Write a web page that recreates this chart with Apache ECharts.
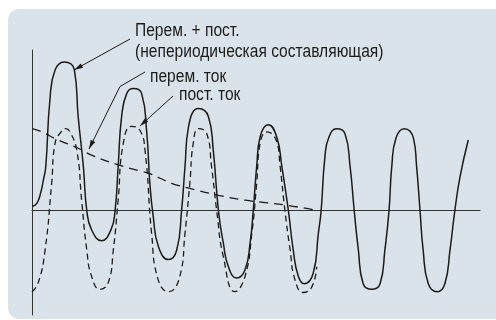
<!DOCTYPE html>
<html><head><meta charset="utf-8">
<script src="https://cdn.jsdelivr.net/npm/echarts@6/dist/echarts.min.js"></script>
<style>html,body{margin:0;padding:0;background:#fff}#c{width:496px;height:320px}</style>
</head><body><div id="c"></div>
<script>
// Time (ms) and value (per-unit) readings for each curve
const totalT = [0, 1.4, 2.5, 3.3, 4.0, 5.2, 6.7, 9.3, 12.3, 13.4, 14.9, 15.9, 17.3, 20.2, 22.9, 24.1, 25.0, 26.0, 27.5, 29.4, 31.8, 33.3, 34.2, 35.2, 36.7, 39.6, 42.0, 43.4, 44.4, 45.4, 48.3, 51.2, 52.6, 54.1, 55.5, 57.0, 59.4, 61.8, 63.3, 64.2, 65.2, 66.2, 68.6, 71.0, 72.5, 74.4, 75.8, 77.3, 79.0, 81.6, 83.1, 83.9, 85.0, 86.2, 88.4, 90.8, 92.3, 93.5, 94.7, 96.1, 98.6, 101.0, 102.4, 103.6, 104.4, 105.6, 108.0, 110.7, 111.6, 112.6, 113.5, 115.0, 117.6, 119.8, 121.3, 122.7, 124.2, 126.6];
const totalV = [0.05, 0.09, 0.22, 0.38, 0.55, 1.38, 1.75, 1.85, 1.75, 1.17, 0.55, 0.0, -0.24, -0.375, -0.24, 0.0, 0.55, 1.17, 1.46, 1.52, 1.46, 0.97, 0.34, -0.08, -0.45, -0.61, -0.49, 0.0, 0.55, 1.04, 1.27, 1.17, 0.75, 0.0, -0.40, -0.70, -0.84, -0.74, -0.40, 0.0, 0.55, 0.92, 1.07, 0.92, 0.55, 0.0, -0.49, -0.82, -0.91, -0.78, -0.28, 0.0, 0.67, 0.92, 1.02, 0.96, 0.55, 0.0, -0.49, -0.91, -0.98, -0.91, -0.49, 0.0, 0.55, 0.90, 1.02, 0.90, 0.55, 0.0, -0.49, -0.91, -1.01, -0.91, -0.49, 0.0, 0.42, 0.88];

const acT = [0, 1.8, 3.8, 5.7, 6.7, 8.6, 9.8, 11.0, 13.0, 14.4, 15.9, 17.3, 19.7, 22.1, 23.6, 25.0, 26.5, 28.9, 31.3, 32.8, 34.7, 36.6, 39.6, 42.9, 44.4, 45.8, 46.8, 48.3, 50.7, 52.1, 53.6, 55.5, 58.9, 61.8, 63.8, 65.2, 66.2, 68.2, 71.0, 72.0, 73.4, 74.9, 76.3, 78.7, 81.2, 82.6];
const acV = [-1.01, -0.90, -0.49, 0.34, 0.84, 0.99, 1.02, 0.98, 0.75, 0.13, -0.49, -0.82, -0.98, -0.90, -0.49, 0.13, 0.84, 1.05, 1.0, 0.75, -0.28, -0.86, -1.01, -0.82, -0.28, 0.34, 0.84, 1.02, 0.96, 0.55, 0.0, -0.57, -1.01, -0.82, -0.28, 0.34, 0.84, 0.98, 0.86, 0.55, 0.0, -0.49, -0.86, -1.02, -0.95, -0.70];

const dcT = [0, 2.8, 7.5, 13.3, 17.3, 25.0, 30.8, 34.2, 40.5, 47.3, 54.1, 61.8, 67.6, 73.4, 79.2, 83.1];
const dcV = [1.02, 0.98, 0.88, 0.78, 0.69, 0.57, 0.50, 0.46, 0.34, 0.26, 0.19, 0.13, 0.10, 0.07, 0.03, 0.0];

const labels = ['Перем. + пост.', '(непериодическая составляющая)', 'перем. ток', 'пост. ток'];

function pairs(t, v) { return t.map((x, i) => [x, v[i]]); }

function arrowHead(p1, p2, len, w) {
  const dx = p2[0] - p1[0], dy = p2[1] - p1[1], L = Math.hypot(dx, dy);
  const ux = dx / L, uy = dy / L;
  const bx = p2[0] - ux * len, by = p2[1] - uy * len;
  return [[p2[0], p2[1]], [bx - uy * w / 2, by + ux * w / 2], [bx + uy * w / 2, by - ux * w / 2]];
}

const INK = '#1b1b1b';
const FONT = '17.5px "Liberation Sans", Arial, sans-serif';
const textEl = (txt, x, y, sx) => ({
  type: 'text', x: x, y: y, scaleX: sx, z: 100,
  style: { text: txt, x: 0, y: 0, font: FONT, fill: INK, align: 'left', verticalAlign: 'top' }
});
const lineEl = (pts) => ({ type: 'polyline', z: 100, shape: { points: pts }, style: { stroke: INK, lineWidth: 1, fill: null } });
const headEl = (a, b) => ({ type: 'polygon', z: 100, shape: { points: arrowHead(a, b, 9, 5) }, style: { fill: INK } });

const a1 = [[130, 39], [74, 70]];
const a2 = [[145, 72], [120, 86.5], [89, 149]];
const a3 = [[173, 96], [140, 126]];

const chart = echarts.init(document.getElementById('c'));
chart.setOption({
  animation: false,
  backgroundColor: '#ffffff',
  grid: { left: 32, top: 50, width: 448, height: 265 },
  xAxis: {
    type: 'value', min: 0, max: 130,
    axisLine: { show: true, onZero: true, lineStyle: { color: '#333', width: 1 } },
    axisTick: { show: false }, axisLabel: { show: false }, splitLine: { show: false }
  },
  yAxis: {
    type: 'value', min: -1.3, max: 2.0,
    axisLine: { show: true, lineStyle: { color: '#333', width: 1 } },
    axisTick: { show: false }, axisLabel: { show: false }, splitLine: { show: false }
  },
  graphic: [
    { type: 'rect', z: -10, silent: true, shape: { x: 8, y: 9, width: 520, height: 310, r: 11 }, style: { fill: '#dbe3ea' } },
    textEl(labels[0], 135, 22, 0.89),
    textEl(labels[1], 135, 43, 0.89),
    textEl(labels[2], 150, 68, 0.89),
    textEl(labels[3], 179, 86, 0.89),
    lineEl(a1), headEl(a1[0], a1[1]),
    lineEl(a2), headEl(a2[1], a2[2]),
    lineEl(a3), headEl(a3[0], a3[1])
  ],
  series: [
    { type: 'line', data: pairs(totalT, totalV), smooth: 0.5, showSymbol: false, lineStyle: { color: INK, width: 1.5 } },
    { type: 'line', data: pairs(acT, acV), smooth: 0.5, showSymbol: false, lineStyle: { color: INK, width: 1.3, type: [6, 4] } },
    { type: 'line', data: pairs(dcT, dcV), smooth: 0.4, showSymbol: false, lineStyle: { color: INK, width: 1.3, type: [9, 6] } }
  ]
});
</script></body></html>
